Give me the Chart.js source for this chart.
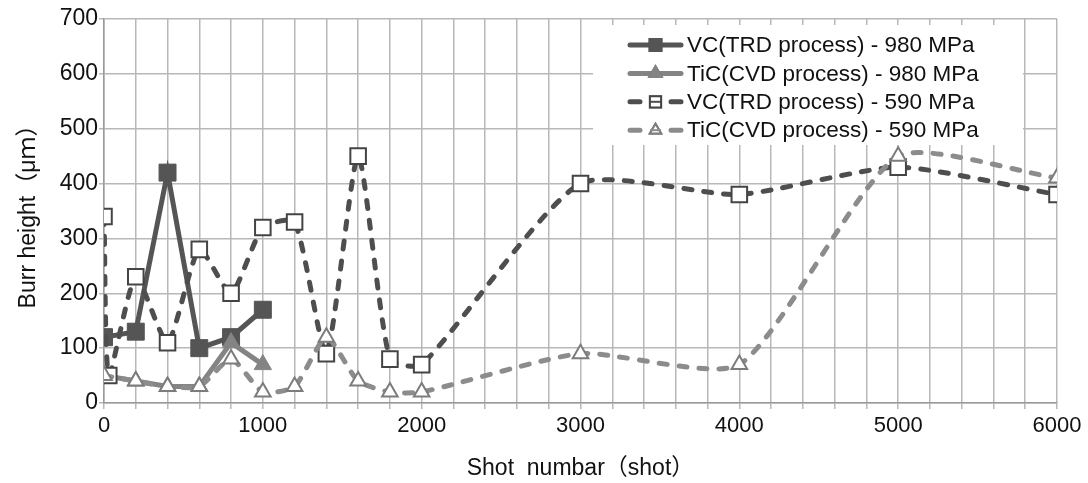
<!DOCTYPE html>
<html lang="en">
<head>
    <meta charset="UTF-8">
    <title>Burr height vs shot number</title>
    <script src="https://cdn.jsdelivr.net/npm/chart.js"></script>
    <style>
        html, body { margin: 0; padding: 0; background: #fff; }
        #wrap { width: 1088px; height: 483px; }
    </style>
</head>
<body>
    <div id="wrap">
        <canvas id="myChart"></canvas>
    </div>
    <script>
        // values (shot number -> burr height in um)
        const vc980X = [0, 200, 400, 600, 800, 1000];
        const vc980Y = [120, 130, 420, 100, 120, 170];

        const tic980X = [0, 200, 400, 600, 800, 1000];
        const tic980Y = [50, 40, 30, 30, 110, 70];

        const vc590X = [0, 30, 200, 400, 600, 800, 1000, 1200, 1400, 1600, 1800, 2000, 3000, 4000, 5000, 6000];
        const vc590Y = [340, 50, 230, 110, 280, 200, 320, 330, 90, 450, 80, 70, 400, 380, 430, 380];

        const tic590X = [0, 200, 400, 600, 800, 1000, 1200, 1400, 1600, 1800, 2000, 3000, 4000, 5000, 6000];
        const tic590Y = [50, 40, 30, 30, 80, 20, 30, 120, 40, 20, 20, 90, 70, 450, 410];

        const seriesLabels = [
            'VC(TRD process) - 980 MPa',
            'TiC(CVD process) - 980 MPa',
            'VC(TRD process) - 590 MPa',
            'TiC(CVD process) - 590 MPa'
        ];

        const xTickLabels = ['0', '1000', '2000', '3000', '4000', '5000', '6000'];
        const yTickLabels = ['0', '100', '200', '300', '400', '500', '600', '700'];

        const FONT = '"Liberation Sans", Arial, "Noto Sans CJK JP", sans-serif';

        function pts(xs, ys) {
            return xs.map((x, i) => ({ x: x, y: ys[i] }));
        }

        // legend drawn inside the plot on a white box, like the original
        const boxLegend = {
            id: 'boxLegend',
            afterDatasetsDraw(chart) {
                const ctx = chart.ctx;
                ctx.save();
                ctx.fillStyle = '#fff';
                ctx.fillRect(593, 25, 430, 120);
                chart.data.datasets.forEach((ds, i) => {
                    const y = 45 + i * 28.4;
                    ctx.save();
                    ctx.strokeStyle = ds.borderColor;
                    ctx.lineWidth = ds.borderWidth;
                    ctx.lineCap = 'round';
                    ctx.beginPath();
                    if (ds.borderDash && ds.borderDash.length) {
                        ctx.moveTo(630, y); ctx.lineTo(640, y);
                        ctx.moveTo(671, y); ctx.lineTo(681, y);
                    } else {
                        ctx.moveTo(630, y); ctx.lineTo(681, y);
                    }
                    ctx.stroke();
                    ctx.restore();
                    Chart.helpers.drawPoint(ctx, {
                        pointStyle: ds.pointStyle,
                        radius: ds.pointRadius * 0.72,
                        borderWidth: 2
                    }, 655.5, y);
                    ctx.fillStyle = ds.pointBackgroundColor;
                    ctx.strokeStyle = ds.pointBorderColor;
                    ctx.lineWidth = 2;
                    ctx.fill();
                    ctx.stroke();
                    if (ds.borderDash && ds.borderDash.length) {
                        ctx.beginPath();
                        ctx.strokeStyle = ds.borderColor;
                        ctx.lineWidth = 2;
                        ctx.moveTo(650, y); ctx.lineTo(661, y);
                        ctx.stroke();
                    }
                    ctx.fillStyle = '#111';
                    ctx.font = '22.5px ' + FONT;
                    ctx.textBaseline = 'middle';
                    ctx.fillText(seriesLabels[i], 687, y + 1);
                });
                ctx.restore();
            }
        };

        const ctx = document.getElementById('myChart').getContext('2d');
        const myChart = new Chart(ctx, {
            type: 'line',
            data: {
                datasets: [
                    {
                        label: seriesLabels[0],
                        data: pts(vc980X, vc980Y),
                        borderColor: '#555555',
                        backgroundColor: '#555555',
                        pointBackgroundColor: '#555555',
                        pointBorderColor: '#555555',
                        borderWidth: 5,
                        pointStyle: 'rect',
                        pointRadius: 12,
                        pointBorderWidth: 1,
                        tension: 0,
                        fill: false,
                        order: 4,
                    },
                    {
                        label: seriesLabels[1],
                        data: pts(tic980X, tic980Y),
                        borderColor: '#848484',
                        backgroundColor: '#848484',
                        pointBackgroundColor: '#848484',
                        pointBorderColor: '#848484',
                        borderWidth: 5,
                        pointStyle: 'triangle',
                        pointRadius: 10,
                        pointBorderWidth: 1,
                        tension: 0,
                        fill: false,
                        order: 3,
                    },
                    {
                        label: seriesLabels[2],
                        data: pts(vc590X, vc590Y),
                        borderColor: '#4e4e4e',
                        backgroundColor: '#ffffff',
                        pointBackgroundColor: '#ffffff',
                        pointBorderColor: '#444444',
                        borderWidth: 5,
                        borderDash: [8, 12],
                        borderCapStyle: 'round',
                        pointStyle: 'rect',
                        pointRadius: 11,
                        pointBorderWidth: 2,
                        tension: 0.2,
                        fill: false,
                        order: 2,
                    },
                    {
                        label: seriesLabels[3],
                        data: pts(tic590X, tic590Y),
                        borderColor: '#8c8c8c',
                        backgroundColor: '#ffffff',
                        pointBackgroundColor: '#ffffff',
                        pointBorderColor: '#7c7c7c',
                        borderWidth: 5,
                        borderDash: [8, 12],
                        borderCapStyle: 'round',
                        pointStyle: 'triangle',
                        pointRadius: 9,
                        pointBorderWidth: 2,
                        tension: 0.2,
                        fill: false,
                        order: 1,
                    },
                ],
            },
            options: {
                responsive: true,
                maintainAspectRatio: false,
                animation: false,
                layout: { padding: { top: 19, right: 31, left: 0, bottom: 0 } },
                plugins: {
                    legend: { display: false },
                    tooltip: { enabled: false },
                },
                scales: {
                    x: {
                        type: 'linear',
                        min: 0,
                        max: 6000,
                        afterFit: (scale) => { scale.height = 80; },
                        border: { color: '#9a9a9a', width: 1.5 },
                        grid: { color: '#b8b8b8', lineWidth: 1.5, tickLength: 6, drawTicks: true },
                        ticks: {
                            stepSize: 200,
                            autoSkip: false,
                            maxRotation: 0,
                            padding: 4,
                            color: '#111',
                            font: { family: FONT, size: 22 },
                            callback: (v) => (v % 1000 === 0 ? xTickLabels[v / 1000] : ''),
                        },
                        title: {
                            display: true,
                            text: 'Shot  numbar（shot）',
                            color: '#111',
                            font: { family: FONT, size: 23 },
                            padding: { top: 0, bottom: 1 },
                        },
                    },
                    y: {
                        min: 0,
                        max: 700,
                        afterFit: (scale) => { scale.width = 104; },
                        border: { color: '#9a9a9a', width: 1.5 },
                        grid: { color: '#b8b8b8', lineWidth: 1.5, tickLength: 5 },
                        ticks: {
                            stepSize: 100,
                            padding: 1,
                            color: '#111',
                            font: { family: FONT, size: 23 },
                            callback: (v) => yTickLabels[v / 100],
                        },
                        title: {
                            display: true,
                            text: 'Burr height（μｍ）',
                            color: '#111',
                            font: { family: FONT, size: 23 },
                            padding: { top: 15, bottom: 0 },
                        },
                    },
                },
            },
            plugins: [boxLegend],
        });
    </script>
</body>
</html>
